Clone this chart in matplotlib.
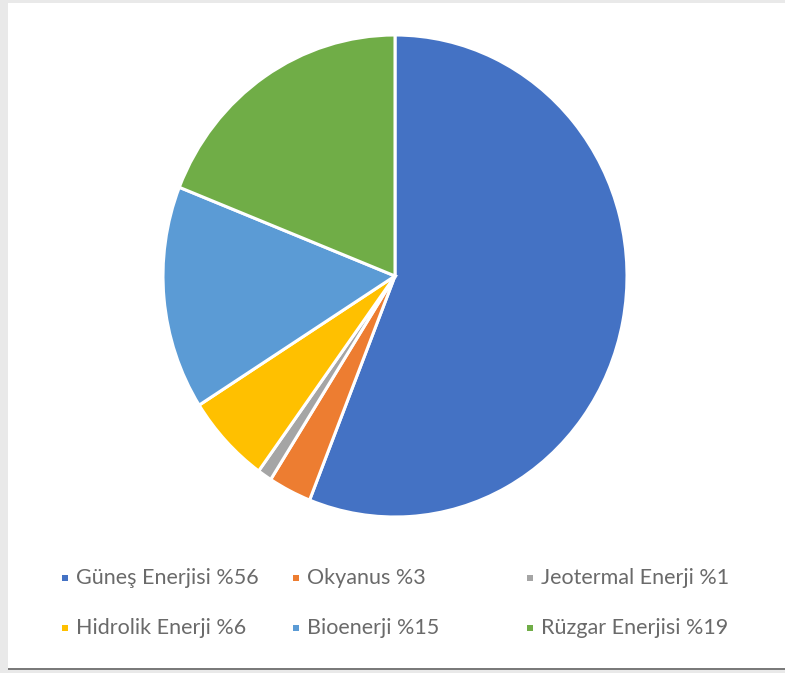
import matplotlib
matplotlib.use("Agg")
import matplotlib.pyplot as plt
from matplotlib.patches import Rectangle

labels = ["Güneş Enerjisi %56", "Okyanus %3", "Jeotermal Enerji %1",
          "Hidrolik Enerji %6", "Bioenerji %15", "Rüzgar Enerjisi %19"]
values = [56, 3, 1, 6, 15, 19]
colors = ["#4472C4", "#ED7D31", "#A5A5A5", "#FFC000", "#5B9BD5", "#70AD47"]

W, H = 785, 673
fig = plt.figure(figsize=(W / 100, H / 100), dpi=100)
fig.patch.set_facecolor("#E9E9E9")

# white card
fig.add_artist(Rectangle((8 / W, 5 / H), 1 - 8 / W, 1 - 8 / H, transform=fig.transFigure,
                         facecolor="white", edgecolor="none", zorder=-5))
fig.add_artist(Rectangle((8 / W, 3 / H), 1, 2 / H, transform=fig.transFigure,
                         facecolor="#7A7A7A", edgecolor="none", zorder=-4))

cx, cy, rx, ry = 395, 276, 232, 241
ax = fig.add_axes([(cx - rx) / W, (H - cy - ry) / H, 2 * rx / W, 2 * ry / H], zorder=2)
ax.patch.set_visible(False)
ax.pie(values, colors=colors, startangle=90, counterclock=False,
       wedgeprops=dict(edgecolor="white", linewidth=2.2))
ax.set_aspect("auto")
ax.set_xlim(-1, 1)
ax.set_ylim(-1, 1)
ax.axis("off")

# legend laid out as in the reference (3 columns x 2 rows)
col_x = [65, 296, 530]
row_y = [578, 628]
for i, (lab, col) in enumerate(zip(labels, colors)):
    x = col_x[i % 3]
    y = row_y[i // 3]
    fig.add_artist(Rectangle(((x - 3) / W, (H - y - 3) / H), 6 / W, 6 / H,
                             transform=fig.transFigure, facecolor=col,
                             edgecolor="none", zorder=3))
    fig.text((x + 11) / W, (H - y) / H, lab, ha="left", va="center",
             fontsize=15.5, color="#6A6A6A", family=["Lato", "DejaVu Sans"], zorder=3)

fig.savefig("out.png", dpi=100, facecolor=fig.get_facecolor())
